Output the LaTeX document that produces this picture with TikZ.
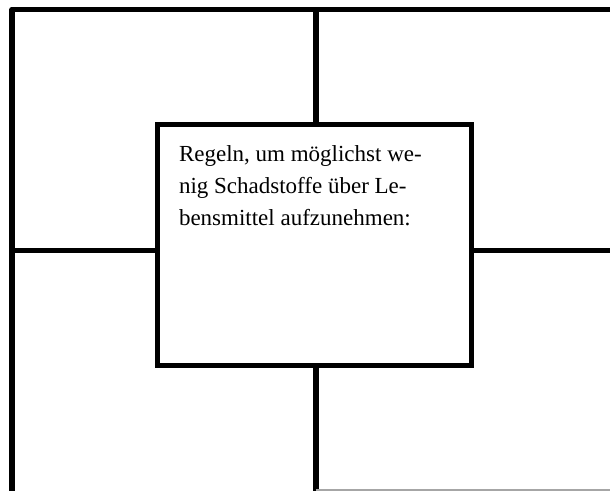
\documentclass[tikz,border=0pt]{standalone}
\usepackage{fontspec}
\setmainfont{Liberation Serif}
\usepackage{tikz}

\begin{document}
\begin{tikzpicture}[
            x=1pt, y=1pt,
            rule/.style={line width=5.5pt, line join=round},
            thinrule/.style={line width=5pt, draw=gray!70},
            rulebox/.style={draw, line width=5.5pt, fill=white, minimum width=314pt, minimum height=241pt, inner xsep=21.5pt, inner ysep=21.5pt}
        ]
            \useasboundingbox (0,0) rectangle (610,490);
            \clip (0,0) rectangle (610,490);

            \coordinate (top left) at (12,480.5);
            \coordinate (top right) at (620,480.5);
            \coordinate (bottom left) at (12,-10);
            \coordinate (top mid) at (316,480.5);
            \coordinate (bottom mid) at (316,-10);
            \coordinate (mid left) at (12,239.5);
            \coordinate (mid right) at (620,239.5);

            \node [rulebox] (rules) at (314.5,245) {\parbox[c][198pt][t]{271pt}{\raggedright\fontsize{23}{31.6}\selectfont
                Regeln, um möglichst we-\\nig Schadstoffe über Le-\\bensmittel aufzunehmen:}};

            \draw [rule] (bottom left) -- (top left) -- (top right);
            \draw [rule] (top mid) -- (top mid |- rules.north);
            \draw [rule] (bottom mid) -- (bottom mid |- rules.south);
            \draw [rule] (mid left) -- (mid left -| rules.west);
            \draw [rule] (mid right) -- (mid right -| rules.east);
            \draw [thinrule] (316,-1.5) -- (620,-1.5);

        \end{tikzpicture}
\end{document}
